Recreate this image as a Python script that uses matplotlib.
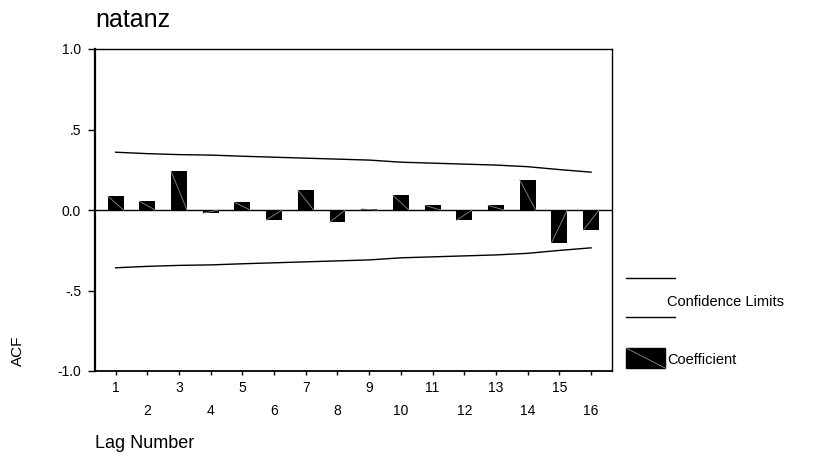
import matplotlib
matplotlib.use('Agg')
import matplotlib.pyplot as plt
from matplotlib.lines import Line2D
from matplotlib.patches import Rectangle

plt.rcParams['font.family'] = ['Liberation Sans', 'DejaVu Sans']

# autocorrelation by lag, with the confidence band around zero
lags = list(range(1, 17))
acf = [0.087, 0.054, 0.241, -0.020, 0.047, -0.062, 0.124, -0.076,
       0.006, 0.091, 0.029, -0.064, 0.029, 0.186, -0.204, -0.126]
upper = [0.359, 0.350, 0.344, 0.341, 0.334, 0.328, 0.322, 0.316,
         0.310, 0.297, 0.291, 0.285, 0.279, 0.269, 0.251, 0.235]
lower = [-u for u in upper]
ytick_vals = [-1.0, -0.5, 0.0, 0.5, 1.0]
ytick_labels = ['-1.0', '-.5', '0.0', '.5', '1.0']

W, H = 825, 466
fig = plt.figure(figsize=(W / 100, H / 100), dpi=100)
ax = fig.add_axes([95 / W, 1 - 371 / H, (612 - 95) / W, (371 - 49) / H])

bw = 0.5
ax.bar(lags, acf, width=bw, color='black', zorder=2)
# thin grey diagonal inside each bar
for x, v in zip(lags, acf):
    ax.plot([x - bw / 2, x + bw / 2], [v, 0], color='#8a8a8a', lw=0.6, zorder=3)

ax.plot(lags, upper, color='black', lw=1)
ax.plot(lags, lower, color='black', lw=1)
ax.axhline(0, color='black', lw=1, zorder=1)

ax.set_xlim(0.35, 16.66)
ax.set_ylim(-1, 1)

# odd lags on the first row, even lags staggered below
ax.set_xticks([l for l in lags if l % 2 == 1])
ax.set_xticklabels([str(l) for l in lags if l % 2 == 1])
ax.set_xticks([l for l in lags if l % 2 == 0], minor=True)
ax.set_xticklabels([str(l) for l in lags if l % 2 == 0], minor=True)
ax.tick_params(axis='x', which='major', length=3, width=1, pad=4, labelsize=10)
ax.tick_params(axis='x', which='minor', length=3, width=1, pad=21, labelsize=10)

ax.set_yticks(ytick_vals)
ax.set_yticklabels(ytick_labels)
ax.tick_params(axis='y', length=5, width=1, pad=5, labelsize=10)

for s in ax.spines.values():
    s.set_linewidth(1)
ax.spines['left'].set_linewidth(1.6)
ax.spines['bottom'].set_linewidth(1.3)

fig.text(95 / W, 1 - 20 / H, 'natanz', fontsize=18, va='center', ha='left')
fig.text(95 / W, 1 - 443 / H, 'Lag Number', fontsize=13, va='center', ha='left')
fig.text(18 / W, 1 - 351 / H, 'ACF', fontsize=11, rotation=90, va='center', ha='center')

# legend drawn beside the plot
fig.add_artist(Line2D([626 / W, 675 / W], [1 - 278 / H] * 2, color='black', lw=1))
fig.add_artist(Line2D([626 / W, 675 / W], [1 - 317 / H] * 2, color='black', lw=1))
fig.text(667 / W, 1 - 302 / H, 'Confidence Limits', fontsize=10.5, va='center', ha='left')
fig.add_artist(Rectangle((626 / W, 1 - 368 / H), 39 / W, 20 / H, color='black',
                         transform=fig.transFigure))
fig.add_artist(Line2D([626 / W, 665 / W], [1 - 348 / H, 1 - 368 / H], color='#8a8a8a', lw=0.6))
fig.text(667 / W, 1 - 360 / H, 'Coefficient', fontsize=10.5, va='center', ha='left')

fig.savefig('out.png', dpi=100)
